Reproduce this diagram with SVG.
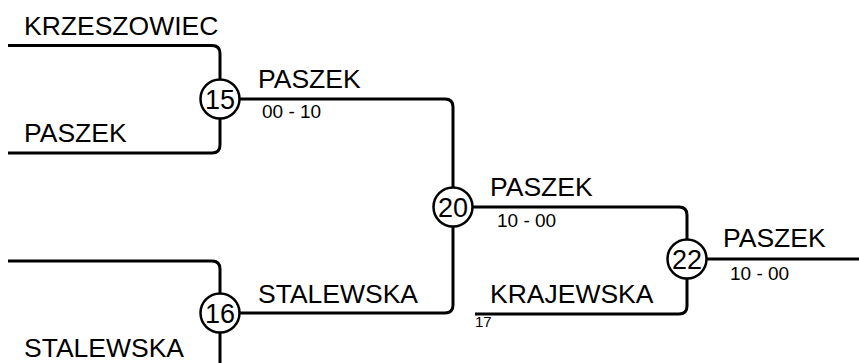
<svg xmlns="http://www.w3.org/2000/svg" width="859" height="363" viewBox="0 0 859 363">
<style>
.ln{fill:none;stroke:#000;stroke-width:3}
.nd{fill:#fff;stroke:#000;stroke-width:2.5}
.t{font-family:"Liberation Sans",Arial,sans-serif;font-size:26.5px;fill:#000}
.s{font-family:"Liberation Sans",Arial,sans-serif;font-size:19px;fill:#000}
.x{font-family:"Liberation Sans",Arial,sans-serif;font-size:15px;fill:#000}
.n{font-family:"Liberation Sans",Arial,sans-serif;font-size:27px;fill:#000;text-anchor:middle}
</style>
<rect width="859" height="363" fill="#fff"/>
<g id="connectors">
<path class="ln" d="M8 45.5 H212 Q220 45.5 220 53.5 V80"/>
<path class="ln" d="M220 118 V145 Q220 153 212 153 H8"/>
<path class="ln" d="M239 99 H445 Q453 99 453 107 V188"/>
<path class="ln" d="M453 226 V305 Q453 313 445 313 H239"/>
<path class="ln" d="M8 261 H212 Q220 261 220 269 V294"/>
<path class="ln" d="M220 332 V363"/>
<path class="ln" d="M472 207 H679 Q687 207 687 215 V240"/>
<path class="ln" d="M687 278 V306 Q687 314 679 314 H475"/>
<path class="ln" d="M706 259 H859"/>
</g>
<g id="labels">
<text class="t" x="24" y="35">KRZESZOWIEC</text>
<text class="t" x="24" y="142">PASZEK</text>
<text class="t" x="258" y="88">PASZEK</text>
<text class="s" x="262" y="118">00 - 10</text>
<text class="t" x="490" y="196">PASZEK</text>
<text class="s" x="497" y="227">10 - 00</text>
<text class="t" x="723" y="247">PASZEK</text>
<text class="s" x="730" y="280">10 - 00</text>
<text class="t" x="258" y="303">STALEWSKA</text>
<text class="t" x="490" y="303">KRAJEWSKA</text>
<text class="x" x="475" y="327">17</text>
<text class="t" x="24" y="357">STALEWSKA</text>
</g>
<g id="node15"><circle class="nd" cx="220" cy="99" r="19.5"/><text class="n" x="220" y="108.5">15</text></g>
<g id="node16"><circle class="nd" cx="220" cy="313" r="19.5"/><text class="n" x="220" y="322.5">16</text></g>
<g id="node20"><circle class="nd" cx="453" cy="207" r="19.5"/><text class="n" x="453" y="216.5">20</text></g>
<g id="node22"><circle class="nd" cx="687" cy="259" r="19.5"/><text class="n" x="687" y="268.5">22</text></g>
</svg>
